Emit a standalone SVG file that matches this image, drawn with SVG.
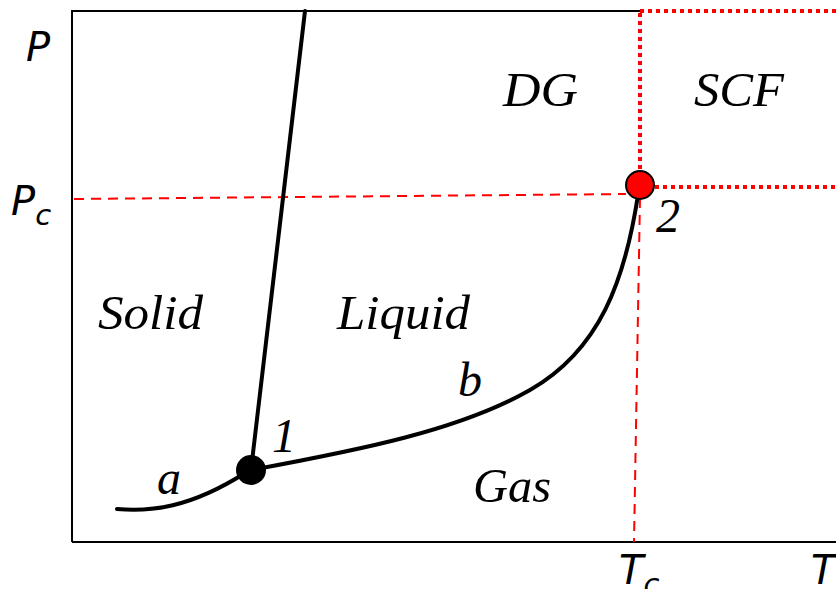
<svg xmlns="http://www.w3.org/2000/svg" width="836" height="589" viewBox="0 0 836 589">
<style>
.lbl{font-family:"Liberation Serif","Times New Roman",serif;font-style:italic;font-size:48px;fill:#000}
.ax{font-family:"DejaVu Sans","Open Sans",sans-serif;font-style:italic;font-size:40px;fill:#000}
.sub{font-size:29px}
.curve{fill:none;stroke:#000;stroke-width:4;stroke-linecap:round}
.dash{fill:none;stroke:#f00;stroke-width:2;stroke-dasharray:10,7}
.dot{fill:none;stroke:#f00;stroke-width:4;stroke-dasharray:4,4}
</style>
<rect width="836" height="589" fill="#fff"/>
<g id="frame">
<path d="M72,542 V11 H640 M72,542 H836" fill="none" stroke="#000" stroke-width="2"/>
</g>
<g id="connectors">
<path class="dash" d="M74,199 L626,194"/>
<path class="dash" d="M640,198 L634,542"/>
<path class="dot" d="M640,11 H836 M640,13 V172 M655,187 H836"/>
<path class="curve" d="M305,11 L251,470"/>
<path class="curve" d="M117,509 C150,512 190,508 245,473"/>
<path class="curve" d="M251,470 C360,450 460,430 530,390 C600,350 625,280 638,195"/>
</g>
<g id="triple"><circle cx="251" cy="470" r="15" fill="#000"/></g>
<g id="critical"><circle cx="640" cy="185" r="14" fill="#f00" stroke="#000" stroke-width="2"/></g>
<g id="labels">
<text class="lbl" x="98" y="329" textLength="105" lengthAdjust="spacingAndGlyphs">Solid</text>
<text class="lbl" x="337" y="329" textLength="133" lengthAdjust="spacingAndGlyphs">Liquid</text>
<text class="lbl" x="503" y="106" textLength="75" lengthAdjust="spacingAndGlyphs">DG</text>
<text class="lbl" x="694" y="106" textLength="90" lengthAdjust="spacingAndGlyphs">SCF</text>
<text class="lbl" x="473" y="502" textLength="78" lengthAdjust="spacingAndGlyphs">Gas</text>
<text class="lbl" x="458" y="396">b</text>
<text class="lbl" x="157" y="494">a</text>
<text class="lbl" x="272" y="452">1</text>
<text class="lbl" x="656" y="232">2</text>
<text class="ax" x="26" y="61">P</text>
<text class="ax" x="11" y="215">P<tspan class="sub" dy="10">c</tspan></text>
<text class="ax" x="619" y="584">T<tspan class="sub" dy="10">c</tspan></text>
<text class="ax" x="811" y="584">T</text>
</g>
</svg>
